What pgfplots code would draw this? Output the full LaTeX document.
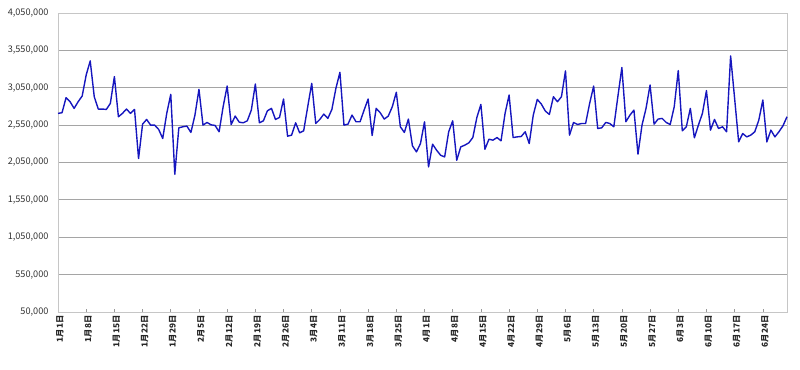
\documentclass[border=0pt]{standalone}
\usepackage{fontspec}
\setmainfont{Noto Sans CJK JP}
\usepackage{pgfplots}
\pgfplotsset{compat=1.18}
\definecolor{lineblue}{RGB}{22,22,190}
\definecolor{gridgray}{RGB}{165,165,165}
\pgfplotstableread{
x y
0 2707000
1 2716000
2 2917000
3 2863000
4 2774000
5 2863000
6 2939000
7 3221000
8 3409000
9 2930000
10 2765000
11 2765000
12 2760000
13 2841000
14 3199000
15 2662000
16 2707000
17 2765000
18 2707000
19 2760000
20 2103000
21 2563000
22 2626000
23 2550000
24 2550000
25 2492000
26 2371000
27 2707000
28 2962000
29 1892000
30 2514000
31 2528000
32 2537000
33 2452000
34 2684000
35 3029000
36 2550000
37 2586000
38 2554000
39 2546000
40 2461000
41 2796000
42 3073000
43 2559000
44 2671000
45 2590000
46 2581000
47 2608000
48 2751000
49 3100000
50 2581000
51 2608000
52 2742000
53 2774000
54 2626000
55 2653000
56 2899000
57 2402000
58 2416000
59 2581000
60 2447000
61 2474000
62 2796000
63 3109000
64 2572000
65 2626000
66 2698000
67 2640000
68 2760000
69 3042000
70 3257000
71 2550000
72 2563000
73 2684000
74 2595000
75 2595000
76 2751000
77 2899000
78 2411000
79 2774000
80 2716000
81 2631000
82 2671000
83 2796000
84 2989000
85 2528000
86 2452000
87 2631000
88 2273000
89 2192000
90 2304000
91 2595000
92 1991000
93 2295000
94 2214000
95 2147000
96 2125000
97 2461000
98 2608000
99 2080000
100 2259000
101 2282000
102 2313000
103 2384000
104 2653000
105 2827000
106 2228000
107 2362000
108 2349000
109 2384000
110 2340000
111 2707000
112 2953000
113 2384000
114 2393000
115 2398000
116 2461000
117 2304000
118 2684000
119 2894000
120 2832000
121 2738000
122 2693000
123 2930000
124 2863000
125 2930000
126 3275000
127 2416000
128 2586000
129 2559000
130 2572000
131 2572000
132 2841000
133 3073000
134 2505000
135 2514000
136 2586000
137 2572000
138 2528000
139 2930000
140 3320000
141 2595000
142 2684000
143 2751000
144 2161000
145 2550000
146 2774000
147 3087000
148 2563000
149 2631000
150 2640000
151 2586000
152 2559000
153 2796000
154 3279000
155 2474000
156 2528000
157 2774000
158 2380000
159 2550000
160 2707000
161 3011000
162 2483000
163 2626000
164 2505000
165 2528000
166 2461000
167 3476000
168 2903000
169 2326000
170 2438000
171 2393000
172 2416000
173 2461000
174 2617000
175 2886000
176 2326000
177 2483000
178 2393000
179 2461000
180 2541000
181 2662000
}\datatable
\begin{document}
\begin{tikzpicture}
\begin{axis}[
  name=ax, at={(0,0)}, anchor=south west,
  scale only axis, width=729bp, height=299bp,
  xmin=0, xmax=181, ymin=50000, ymax=4050000,
  ytick={50000,550000,1050000,1550000,2050000,2550000,3050000,3550000,4050000},
  scaled y ticks=false,
  yticklabel style={/pgf/number format/fixed,/pgf/number format/1000 sep={,},
    font=\fontsize{9.2}{11}\selectfont, text=black!80, xshift=-6bp},
  /pgf/number format/assume math mode=true,
  ytick style={draw=none},
  xtick={0,7,...,175},
  xticklabels={1月1日,1月8日,1月15日,1月22日,1月29日,2月5日,2月12日,2月19日,2月26日,3月4日,3月11日,3月18日,3月25日,4月1日,4月8日,4月15日,4月22日,4月29日,5月6日,5月13日,5月20日,5月27日,6月3日,6月10日,6月17日,6月24日},
  xticklabel style={rotate=90, anchor=east, font=\fontsize{8.3}{10}\selectfont\bfseries, text=black!85, yshift=-2bp},
  tick align=inside, major tick length=3bp,
  xtick style={draw=gray!80, line width=0.6pt},
  xtick pos=bottom,
  ymajorgrids, grid style={draw=gridgray, line width=0.9pt},
  axis line style={draw=gray!45, line width=0.8pt},
  clip=false,
]
\addplot[lineblue, line width=1.4pt, no marks, line join=round] table[x=x,y=y] {\datatable};
\end{axis}
\pgfresetboundingbox
\path (-58bp,-58bp) rectangle (742bp,312bp);
\end{tikzpicture}
\end{document}
